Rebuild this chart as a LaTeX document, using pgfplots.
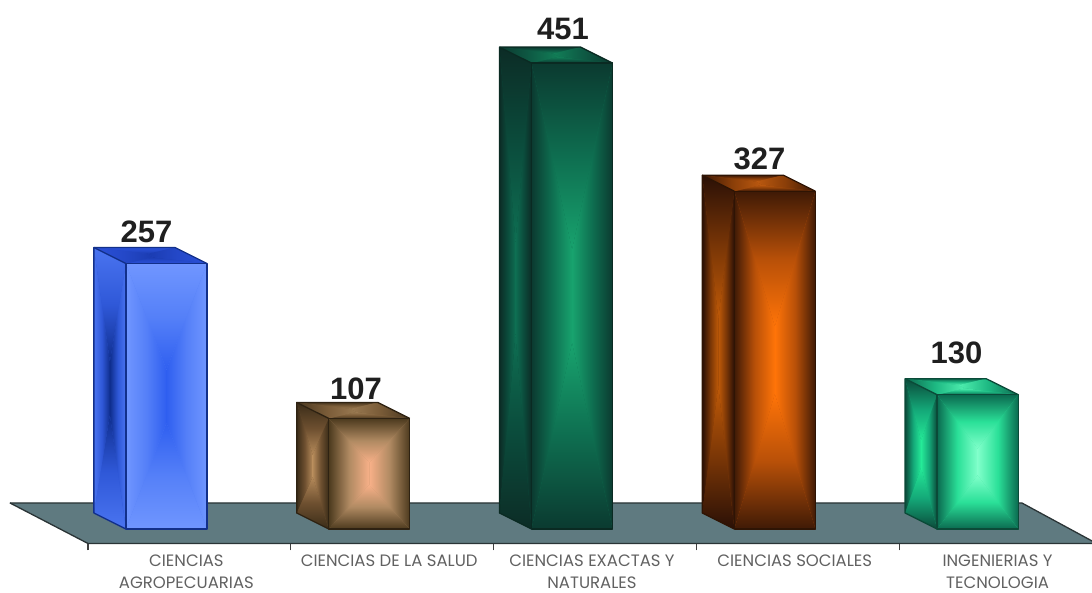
\documentclass[border=0pt]{standalone}
\usepackage{fontspec}
\setmainfont{Liberation Sans}
\newfontfamily\ticklabelfont{Poppins}
\usepackage{pgfplots}
\pgfplotsset{compat=1.18}

% floor
\definecolor{floorcol}{HTML}{5F7A80}
\definecolor{floorline}{HTML}{2A3436}
% blue
\definecolor{blueFE}{HTML}{7096FF}\definecolor{blueFM}{HTML}{5580F8}\definecolor{blueFC}{HTML}{2F5FF0}
\definecolor{blueSE}{HTML}{4A74F0}\definecolor{blueSM}{HTML}{2F58D8}\definecolor{blueSC}{HTML}{0F2E8E}
\definecolor{blueTE}{HTML}{2A50D8}\definecolor{blueTM}{HTML}{2448C8}\definecolor{blueTC}{HTML}{1A3BB0}
\definecolor{blueL}{HTML}{12308A}
% brown
\definecolor{tanFE}{HTML}{4C3A1E}\definecolor{tanFM}{HTML}{B08A62}\definecolor{tanFC}{HTML}{F8B088}
\definecolor{tanSE}{HTML}{3A2C18}\definecolor{tanSM}{HTML}{6E5030}\definecolor{tanSC}{HTML}{B58A5A}
\definecolor{tanTE}{HTML}{4A3820}\definecolor{tanTM}{HTML}{7A5C38}\definecolor{tanTC}{HTML}{9A7A52}
\definecolor{tanL}{HTML}{2E2212}
% dark green
\definecolor{pineFE}{HTML}{0B3A30}\definecolor{pineFM}{HTML}{0E6E50}\definecolor{pineFC}{HTML}{18A36E}
\definecolor{pineSE}{HTML}{0C2C26}\definecolor{pineSM}{HTML}{0B4C3C}\definecolor{pineSC}{HTML}{0E6E52}
\definecolor{pineTE}{HTML}{0C3A30}\definecolor{pineTM}{HTML}{0E5A44}\definecolor{pineTC}{HTML}{128058}
\definecolor{pineL}{HTML}{0A2A22}
% orange
\definecolor{rustFE}{HTML}{3F1A06}\definecolor{rustFM}{HTML}{B85008}\definecolor{rustFC}{HTML}{FF7408}
\definecolor{rustSE}{HTML}{2A1006}\definecolor{rustSM}{HTML}{7A3606}\definecolor{rustSC}{HTML}{BF5A08}
\definecolor{rustTE}{HTML}{3C1806}\definecolor{rustTM}{HTML}{8A3E08}\definecolor{rustTC}{HTML}{BD5A10}
\definecolor{rustL}{HTML}{2E1404}
% mint
\definecolor{mintFE}{HTML}{0B6A50}\definecolor{mintFM}{HTML}{2AE098}\definecolor{mintFC}{HTML}{80FFCA}
\definecolor{mintSE}{HTML}{0B4A3A}\definecolor{mintSM}{HTML}{14A878}\definecolor{mintSC}{HTML}{25EA98}
\definecolor{mintTE}{HTML}{0E6A50}\definecolor{mintTM}{HTML}{1DB882}\definecolor{mintTC}{HTML}{50F0B0}
\definecolor{mintL}{HTML}{0B4A38}

% one face: corners top left, top right, bottom right, bottom left; #9 = colour set
% the bright core is a short spine, not a point, so the shading does not pinch to an X
\newcommand{\face}[9]{%
  \pgfmathsetmacro\mx{(#1+#3+#5+#7)/4}%
  \pgfmathsetmacro\my{(#2+#4+#6+#8)/4}%
  \pgfmathsetmacro\sx{0.1*((#1+#3)/2-(#5+#7)/2)}%
  \pgfmathsetmacro\sy{0.1*((#2+#4)/2-(#6+#8)/2)}%
  \pgfmathsetmacro\px{\mx+\sx}\pgfmathsetmacro\py{\my+\sy}%
  \pgfmathsetmacro\qx{\mx-\sx}\pgfmathsetmacro\qy{\my-\sy}%
  \addplot[draw=none,fill=#9M] coordinates {(#1,#2) (#3,#4) (#5,#6) (#7,#8)} --cycle;
  \addplot[draw=none,top color=#9E,bottom color=#9C,middle color=#9M] coordinates {(#1,#2) (#3,#4) (\px,\py)} --cycle;
  \addplot[draw=none,top color=#9C,bottom color=#9E,middle color=#9M] coordinates {(#7,#8) (#5,#6) (\qx,\qy)} --cycle;
  \addplot[draw=none,left color=#9E,right color=#9C,middle color=#9M] coordinates {(#1,#2) (\px,\py) (\qx,\qy) (#7,#8)} --cycle;
  \addplot[draw=none,left color=#9C,right color=#9E,middle color=#9M] coordinates {(\px,\py) (#3,#4) (#5,#6) (\qx,\qy)} --cycle;
}
% one bar: category, value, colour set
\newcommand{\drawbar}[3]{%
  \pgfmathsetmacro\xl{#1-0.113-0.2}%
  \pgfmathsetmacro\xr{#1-0.113+0.2}%
  \pgfmathsetmacro\xbl{\xl-0.158}%
  \pgfmathsetmacro\xbr{\xr-0.158}%
  \pgfmathsetmacro\vb{#2+15.5}%
  \face{\xbl}{\vb}{\xl}{#2}{\xl}{0}{\xbl}{15.5}{#3S}
  \face{\xbl}{\vb}{\xbr}{\vb}{\xr}{#2}{\xl}{#2}{#3T}
  \face{\xl}{#2}{\xr}{#2}{\xr}{0}{\xl}{0}{#3F}
  \addplot[draw=#3L,line width=1.3pt,line join=round] coordinates {(\xl,0) (\xl,#2) (\xr,#2) (\xr,0)} --cycle;
  \addplot[draw=#3L,line width=1.3pt,line join=round] coordinates {(\xl,0) (\xbl,15.5) (\xbl,\vb) (\xbr,\vb) (\xr,#2)};
  \addplot[draw=#3L,line width=1.3pt] coordinates {(\xl,#2) (\xbl,\vb)};
}

\begin{document}
\begin{tikzpicture}
\useasboundingbox (0,-49.5pt) rectangle (1092pt,543.5pt);
\begin{axis}[
  at={(0,0)},anchor=south west,
  width=1092pt,height=543.5pt,scale only axis,
  xmin=-0.934,xmax=4.451,
  ymin=-14.04,ymax=512.1,
  clip=false,
  hide y axis,
  axis x line=bottom,
  axis line style={draw=none},
  xtick={-0.5,0.5,1.5,2.5,3.5},
  xticklabels={},
  tick align=outside,
  major tick length=7pt,
  x tick style={draw=black!75,line width=1.1pt},
  extra x ticks={0,1,2,3,4},
  extra x tick labels={{CIENCIAS\\AGROPECUARIAS},{CIENCIAS DE LA SALUD},{CIENCIAS EXACTAS Y\\NATURALES},{CIENCIAS SOCIALES},{INGENIERIAS Y\\TECNOLOGIA}},
  extra x tick style={
    major tick length=0pt,
    tick style={draw=none},
    tick label style={align=center,font=\ticklabelfont\fontsize{16.5}{22}\selectfont,text=black!62,
      anchor=north,inner sep=0pt,xshift=-3pt,yshift=-11pt},
  },
]
% floor
\addplot[fill=floorcol,draw=none] coordinates {(-0.885,25.2) (4.105,25.2) (4.451,-11.6) (4.451,-14.04) (-0.5,-14.04)} --cycle;
\addplot[draw=floorline,line width=1.3pt] coordinates {(-0.885,25.2) (-0.5,-14.04) (4.451,-14.04)};
\addplot[draw=floorline,line width=1.3pt] coordinates {(-0.885,25.2) (4.105,25.2) (4.451,-11.6)};

\drawbar{0}{257}{blue}
\drawbar{1}{107}{tan}
\drawbar{2}{451}{pine}
\drawbar{3}{327}{rust}
\drawbar{4}{130}{mint}

% value labels
\addplot[draw=none,mark=none,
  visualization depends on={\thisrow{dx} \as \dx},
  visualization depends on={\thisrow{dy} \as \dy},
  point meta=y,
  nodes near coords={\pgfmathprintnumber[assume math mode=true]{\pgfplotspointmeta}},
  nodes near coords align={center},
  every node near coord/.style={font=\bfseries\fontsize{31}{31}\selectfont,text=black!88,
    anchor=center,xshift=\dx pt,yshift=\dy pt},
] table {
x v dx dy
0 257 -42.9 31.5
1 107 -36.2 29.5
2 451 -32.0 34.5
3 327 -38.3 32.5
4 130 -44.1 41.7
};
\end{axis}
\end{tikzpicture}
\end{document}
